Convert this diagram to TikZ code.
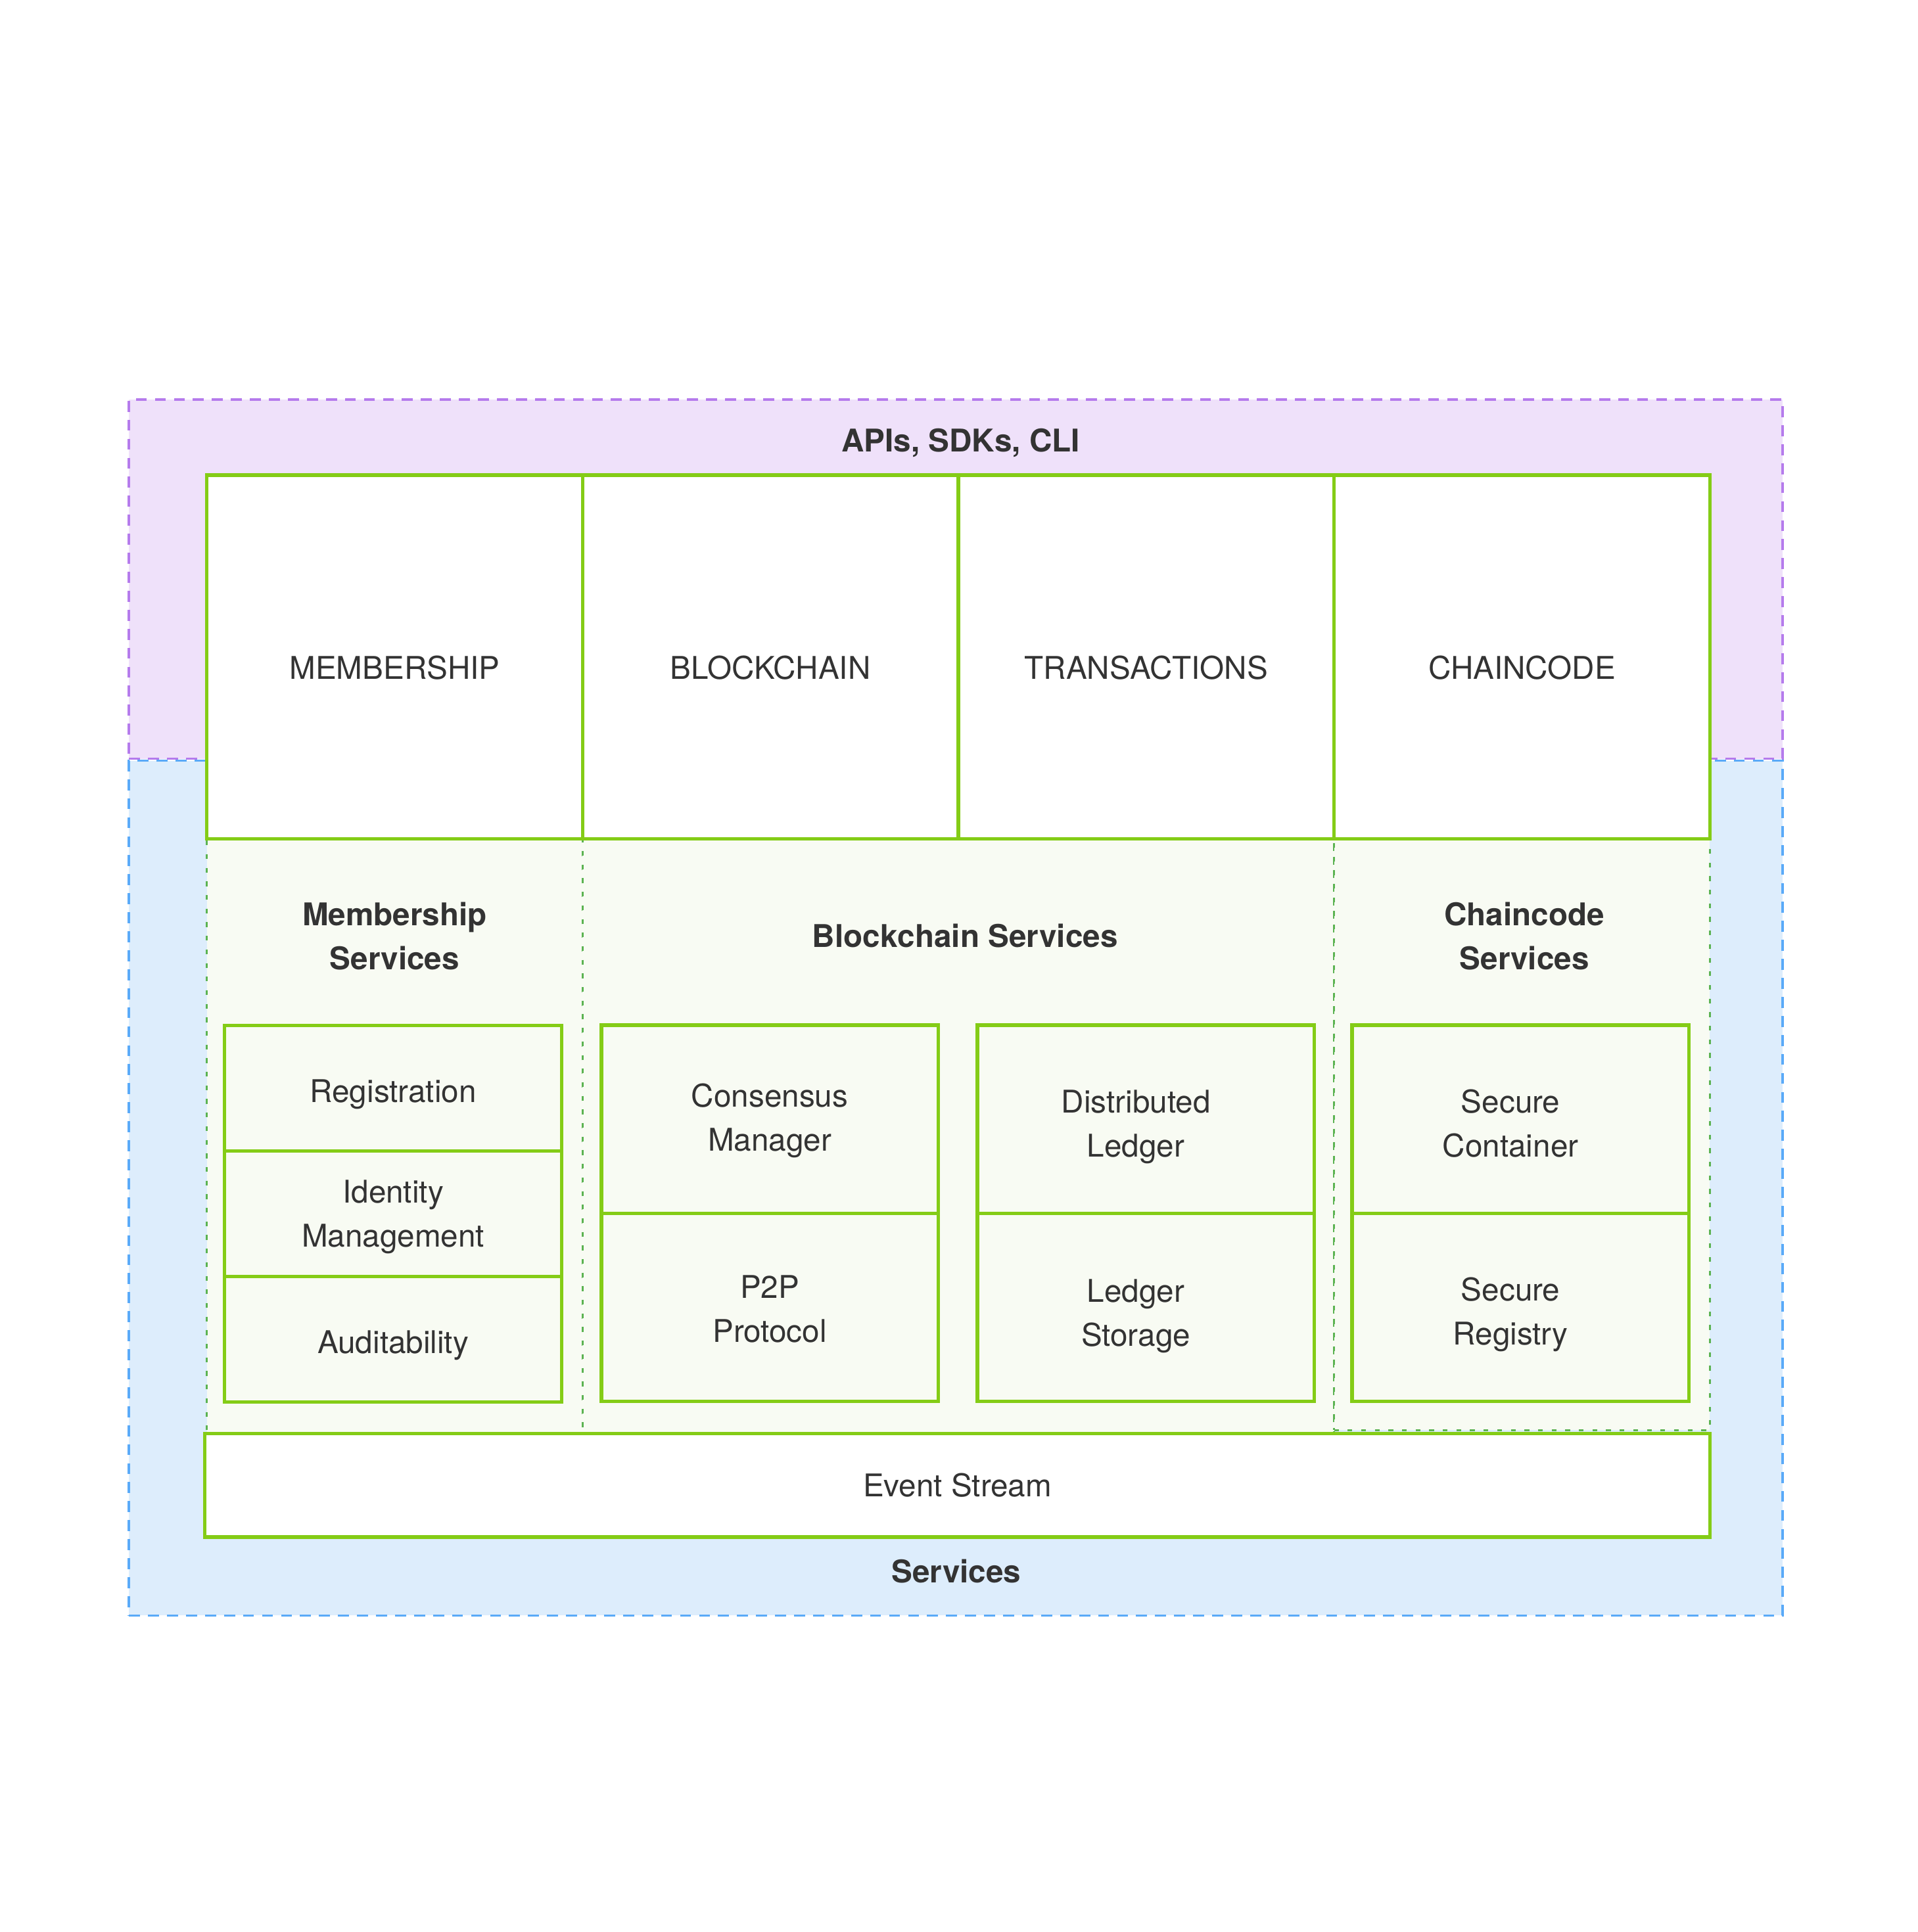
\documentclass[tikz,border=0pt]{standalone}
\usepackage{fontspec}
\setmainfont{TeX Gyre Heros}
\usetikzlibrary{positioning}
\definecolor{apifill}{HTML}{EFE1FA}
\definecolor{apiline}{HTML}{B57BEC}
\definecolor{svcfill}{HTML}{DDEDFC}
\definecolor{svcline}{HTML}{5AAAF8}
\definecolor{leaf}{HTML}{84CC16}
\definecolor{dots}{HTML}{5CB352}
\definecolor{panel}{HTML}{F8FBF3}
\definecolor{ink}{HTML}{333333}
\newcommand{\boxfont}{\fontsize{14.5}{20.4}\selectfont}
\newcommand{\nudge}{\hspace*{0.32cm}}
\tikzset{
  layer/.style={dash pattern=on 5.1pt off 3.7pt,line width=1.1pt,inner sep=0,outer sep=0},
  module/.style={draw=leaf,fill=white,line width=1.6pt,inner sep=0,outer sep=0,align=center,text=ink,font=\boxfont},
  toprow/.style={module,minimum width=6.115cm,minimum height=5.924cm,text height=20.5pt},
  part/.style={module,fill=panel,minimum width=5.48cm,minimum height=3.063cm,text height=32.5pt},
  lowpart/.style={part,text height=37.8pt},
  memberpart/.style={part,minimum width=5.486cm,minimum height=2.042cm},
  panelbox/.style={draw=dots,fill=panel,line width=0.9pt,dash pattern=on 2.2pt off 4.1pt,inner sep=0,outer sep=0,anchor=north west},
  heading/.style={align=center,text=ink,font=\boxfont\bfseries}
}
\begin{document}
\begin{tikzpicture}[x=0.02cm,y=-0.02cm]
  \useasboundingbox (0,0) rectangle (1560,1572.3);
  \node[layer,draw=apiline,fill=apifill,minimum width=26.914cm,minimum height=5.846cm] (apis) at (777.65,471.35) {};
  \node[layer,draw=svcline,fill=svcfill,minimum width=26.914cm,minimum height=13.914cm] (svcs) at (777.65,966.9) {};
  \node[heading] (apititle) at (781.7,360.3) {APIs, SDKs, CLI};
  \node[heading] (svctitle) at (778,1278.6) {Services};

  \node[panelbox,minimum width=6.115cm,minimum height=9.664cm] (memsvc) at (168.3,682.8) {};
  \node[panelbox,minimum width=12.23cm,minimum height=9.664cm] (chainsvc) at (memsvc.north east) {};
  \node[panelbox,minimum width=6.115cm,minimum height=9.624cm] (ccsvc) at (chainsvc.north east) {};

  \node[toprow] (mem) at (321.2,534.7) {MEMBERSHIP};
  \node[toprow,right=0pt of mem] (blk) {BLOCKCHAIN};
  \node[toprow,right=0pt of blk] (tx) {TRANSACTIONS};
  \node[toprow,right=0pt of tx] (cc) {CHAINCODE};

  \node[heading] (memtitle) at (321.1,761.7) {Membership\\Services};
  \node[heading] (chaintitle) at (785.2,761.6) {Blockchain Services};
  \node[heading] (cctitle) at (1240.3,761.7) {Chaincode\\Services};

  \node[memberpart,text height=16.5pt] (reg) at (319.85,885.6) {Registration};
  \node[memberpart,text height=34pt,below=0pt of reg] (ident) {Identity\\Management};
  \node[memberpart,text height=16.5pt,below=0pt of ident] (audit) {Auditability};

  \node[part] (cons) at (626.25,910.85) {Consensus\\Manager};
  \node[part,below=0pt of cons] (p2p) {P2P\\Protocol};
  \node[lowpart,right=0.64cm of cons] (dist) {Distributed\nudge\\Ledger\nudge};
  \node[lowpart,text height=39pt,below=0pt of dist] (store) {Ledger\nudge\\Storage\nudge};
  \node[lowpart,text height=35.3pt,right=0.618cm of dist] (seccont) {Secure\nudge\\Container\nudge};
  \node[lowpart,below=0pt of seccont] (secreg) {Secure\nudge\\Registry\nudge};

  \node[module,minimum width=24.494cm,minimum height=1.686cm] (events) at (779,1208.75) {Event Stream};
\end{tikzpicture}
\end{document}
